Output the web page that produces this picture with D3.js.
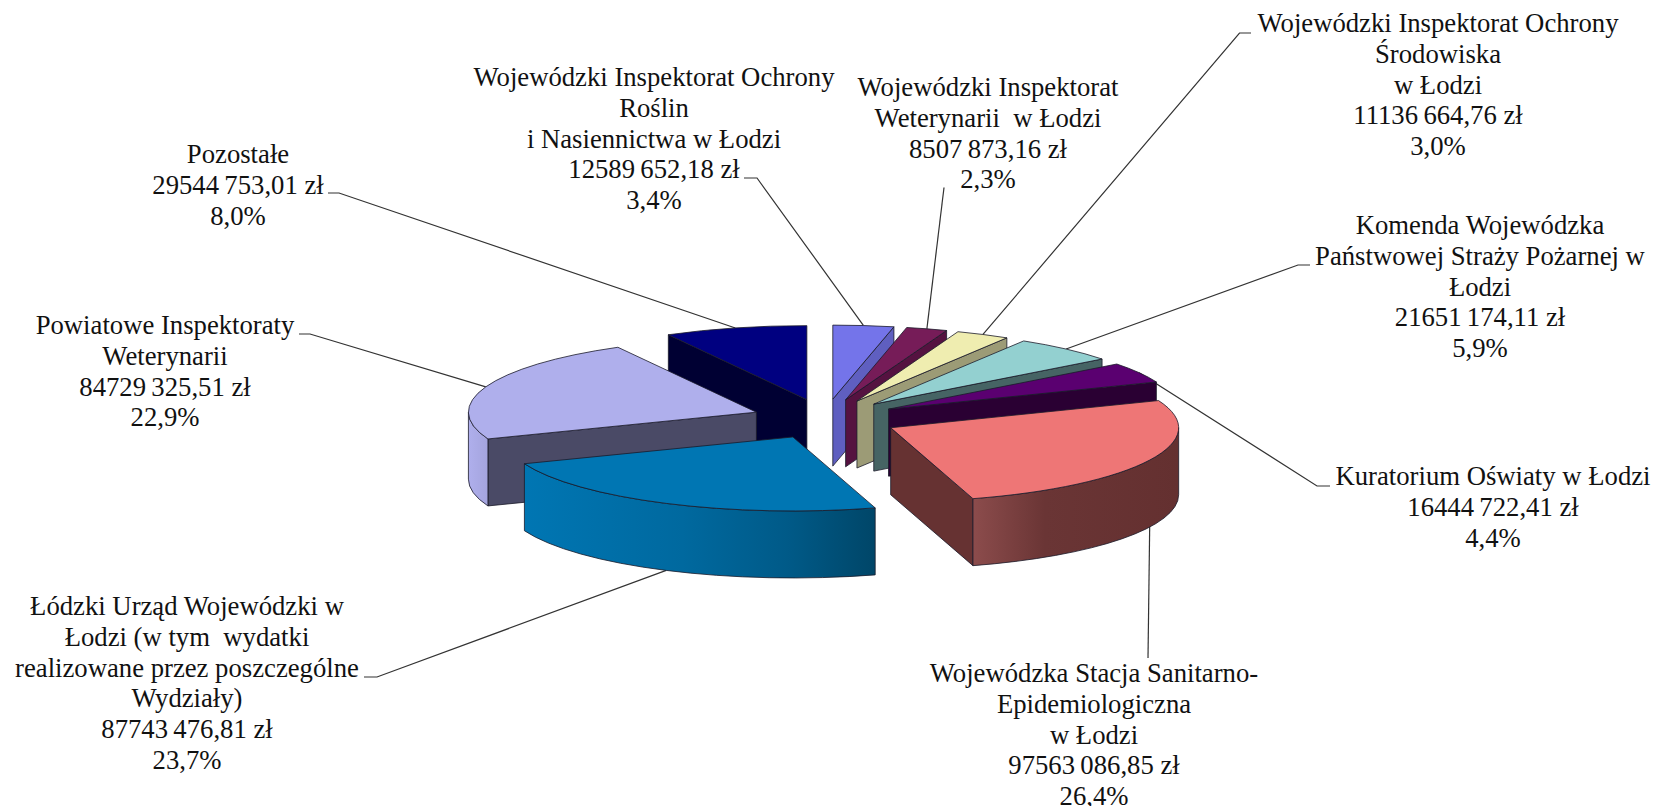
<!DOCTYPE html>
<html><head><meta charset="utf-8">
<script src="https://cdn.jsdelivr.net/npm/d3@7/dist/d3.min.js"></script>
<style>html,body{margin:0;padding:0;background:#fff;overflow:hidden}svg{display:block}
text{font-family:"Liberation Serif","Times New Roman",serif;fill:#111;text-anchor:middle}</style>
</head><body><svg id="c" width="1655" height="806"></svg>
<script>
// DATA (clockwise from 12 o'clock)
const categories = [
  ["Wojewódzki Inspektorat Ochrony","Roślin","i Nasiennictwa w Łodzi"],
  ["Wojewódzki Inspektorat","Weterynarii  w Łodzi"],
  ["Wojewódzki Inspektorat Ochrony","Środowiska","w Łodzi"],
  ["Komenda Wojewódzka","Państwowej Straży Pożarnej w","Łodzi"],
  ["Kuratorium Oświaty w Łodzi"],
  ["Wojewódzka Stacja Sanitarno-","Epidemiologiczna","w Łodzi"],
  ["Łódzki Urząd Wojewódzki w","Łodzi (w tym  wydatki","realizowane przez poszczególne","Wydziały)"],
  ["Powiatowe Inspektoraty","Weterynarii"],
  ["Pozostałe"]
];
const values = [12589652.18, 8507873.16, 11136664.76, 21651174.11, 16444722.41, 97563086.85, 87743476.81, 84729325.51, 29544753.01];

// STYLE / LAYOUT
const topColors  = ["#7474EA","#761C58","#EFEDB0","#93D0D0","#5A0070","#EE7676","#0076B3","#AFAFEC","#000080"];
const wallColors = ["#5F5FC0","#551240","#9C9B76","#466464","#2A0033","#663232","#005070","#4A4A66","#000033"];
const rimStops   = [null,null,null,null,null,
  [[0,"#8C4C4C"],[0.35,"#6A3535"],[1,"#643030"]],
  [[0,"#0076B3"],[0.45,"#00699F"],[0.75,"#005A88"],[1,"#004668"]],
  [[0,"#AFAFEC"],[1,"#A4A4DE"]],
  null];
const labelAnchor = [[654,86],[988,96],[1438,32],[1480,234],[1493,485],[1094,682],[187,615],[165,334],[238,163]];
const elbows = [ [[744,178],[757,178]], [[944,187.5],[944,187.5]], [[1251,33],[1239.5,33]], [[1310,265],[1298,265]],
  [[1330,486],[1317,486]], [[1148,658],[1148,658]], [[364,677],[377,677]], [[299,334],[310,334]], [[328,193],[339,193]] ];
const fontPx = 26.7, lineH = 30.8;
const cx = 825, cy = 419, rx = 288, ry = 74, depth = 67, exX = 73/288, exY = 20/74;

const loc = d3.formatLocale({decimal:",",thousands:"\u2009",grouping:[3,5],currency:["",""],percent:"%"});
const fmtVal = v => loc.format(",.2f")(v) + " zł", fmtPct = loc.format(".1%");
const total = d3.sum(values);

const X = d3.scaleLinear().domain([-1,1]).range([-rx,rx]);
const Y = d3.scaleLinear().domain([-1,1]).range([-ry,ry]);
const pie = d3.pie().sort(null)(values);
const svg = d3.select("#c"), defs = svg.append("defs");

const slices = pie.map((p,i)=>{
  const mid=(p.startAngle+p.endAngle)/2;
  return {i,a0:p.startAngle,a1:p.endAngle,mid,ax:cx+X(Math.sin(mid)*exX),ay:cy+Y(-Math.cos(mid)*exY)};
});
const rimPt=(s,a)=>[s.ax+X(Math.sin(a)),s.ay+Y(-Math.cos(a))];
const arcTo=(a0,a1,p,sweep)=>`A${rx} ${ry} 0 ${Math.abs(a1-a0)>Math.PI?1:0} ${sweep} ${p[0]} ${p[1]}`;

// painter's order: back-left group first, then right fan, so overlaps match
const order=[8,7,6,0,1,2,3,4,5];
const stroke={stroke:"#1a1a2a","stroke-width":0.8,"stroke-linejoin":"round"};
function st(sel){Object.entries(stroke).forEach(([k,v])=>sel.attr(k,v));return sel;}

const g=svg.append("g");
order.forEach(i=>{
  const s=slices[i], p0=rimPt(s,s.a0), p1=rimPt(s,s.a1), gs=g.append("g");
  const wall=(p)=>st(gs.append("path")).attr("fill",wallColors[i])
      .attr("d",`M${s.ax} ${s.ay}L${p[0]} ${p[1]}L${p[0]} ${p[1]+depth}L${s.ax} ${s.ay+depth}Z`);
  if(Math.sin(s.a0)<0) wall(p0);
  if(Math.sin(s.a1)>0) wall(p1);
  const f0=Math.max(s.a0,Math.PI/2), f1=Math.min(s.a1,3*Math.PI/2);
  if(f1>f0){
    const q0=rimPt(s,f0), q1=rimPt(s,f1);
    let fill=wallColors[i];
    if(rimStops[i]){
      const id="rim"+i, lg=defs.append("linearGradient").attr("id",id).attr("gradientUnits","userSpaceOnUse")
        .attr("x1",Math.min(q0[0],q1[0])).attr("x2",Math.max(q0[0],q1[0])).attr("y1",0).attr("y2",0);
      rimStops[i].forEach(d=>lg.append("stop").attr("offset",d[0]).attr("stop-color",d[1]));
      fill=`url(#${id})`;
    }
    st(gs.append("path")).attr("fill",fill)
      .attr("d",`M${q0[0]} ${q0[1]}${arcTo(f0,f1,q1,1)}L${q1[0]} ${q1[1]+depth}${arcTo(f0,f1,[q0[0],q0[1]+depth],0)}Z`);
  }
  st(gs.append("path")).attr("fill",topColors[i])
    .attr("d",`M${s.ax} ${s.ay}L${p0[0]} ${p0[1]}${arcTo(s.a0,s.a1,p1,1)}Z`);
});

// leader lines end on the rim at each slice's mid angle
const line=d3.line();
slices.forEach((s,i)=>{
  const e=rimPt(s,s.mid); if(Math.cos(s.mid)<0) e[1]+=depth;
  svg.insert("path","g").attr("fill","none").attr("stroke","#333").attr("stroke-width",1.2)
     .attr("d",line([...elbows[i],e]));
});

// labels
categories.forEach((lines,i)=>{
  const all=[...lines,fmtVal(values[i]),fmtPct(values[i]/total)];
  const t=svg.append("g");
  all.forEach((l,k)=>t.append("text").attr("x",labelAnchor[i][0]).attr("y",labelAnchor[i][1]+k*lineH)
     .attr("font-size",fontPx).attr("xml:space","preserve").style("white-space","pre").text(l));
});
</script></body></html>
